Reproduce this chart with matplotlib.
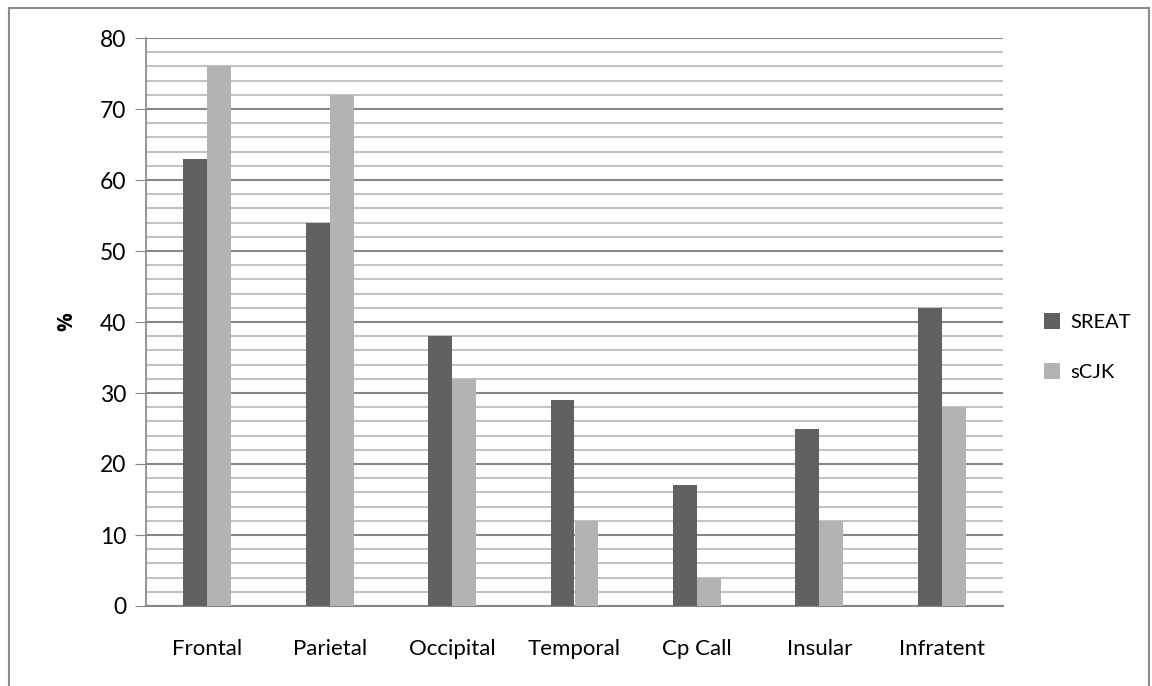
import matplotlib.pyplot as plt
import numpy as np
from matplotlib.patches import Rectangle

# regions and percentages for each group
regions = ['Frontal', 'Parietal', 'Occipital', 'Temporal', 'Cp Call', 'Insular', 'Infratent']
sreat = [63, 54, 38, 29, 17, 25, 42]
scjk = [76, 72, 32, 12, 4, 12, 28]
series_names = ['SREAT', 'sCJK']
y_ticks = [0, 10, 20, 30, 40, 50, 60, 70, 80]


def main():
    plt.rcParams['font.family'] = ['Lato', 'DejaVu Sans']
    fig = plt.figure(figsize=(11.52, 6.86), dpi=100)
    ax = fig.add_axes([146 / 1152, 80 / 686, 857 / 1152, 568 / 686])

    x = np.arange(len(regions))
    w = 0.195
    ax.bar(x - w / 2, sreat, w, color='#616161', label=series_names[0], zorder=3)
    ax.bar(x + w / 2, scjk, w, color='#b3b3b3', label=series_names[1], zorder=3)

    ax.set_xlim(-0.5, len(regions) - 0.5)
    ax.set_ylim(0, 80)
    ax.set_yticks(y_ticks)
    ax.set_yticks(np.arange(0, 81, 2), minor=True)
    ax.set_xticks(x)
    ax.set_xticklabels(regions, fontsize=16)
    ax.tick_params(axis='y', which='major', labelsize=16.5, length=8, color='#868686', pad=6)
    ax.tick_params(axis='y', which='minor', length=0)
    ax.tick_params(axis='x', length=0, pad=24)

    # grid: light minor lines every 2, darker major lines every 10
    ax.grid(axis='y', which='minor', color='#c3c3c3', linewidth=1.5, zorder=0)
    ax.grid(axis='y', which='major', color='#878787', linewidth=1.5, zorder=1)

    for s in ['top', 'right']:
        ax.spines[s].set_visible(False)
    ax.spines['left'].set_color('#868686')
    ax.spines['bottom'].set_color('#868686')
    ax.spines['left'].set_linewidth(1.2)
    ax.spines['bottom'].set_linewidth(1.5)

    ax.set_ylabel('%', fontsize=15, fontweight='bold', family='Open Sans', labelpad=16)

    fig.legend(loc='center left', bbox_to_anchor=(1044 / 1152, 1 - 347 / 686),
               frameon=False, fontsize=14.5, handlelength=0.8, handleheight=0.8,
               labelspacing=1.6, handletextpad=0.5, borderpad=0, borderaxespad=0)

    # outer chart border
    fig.patches.append(Rectangle((9 / 1152, -0.01), 1140 / 1152, 1 - 8 / 686 + 0.01,
                                 transform=fig.transFigure, fill=False,
                                 edgecolor='#8c8c8c', linewidth=1.5))

    fig.savefig('out.png', dpi=100)


if __name__ == '__main__':
    main()
